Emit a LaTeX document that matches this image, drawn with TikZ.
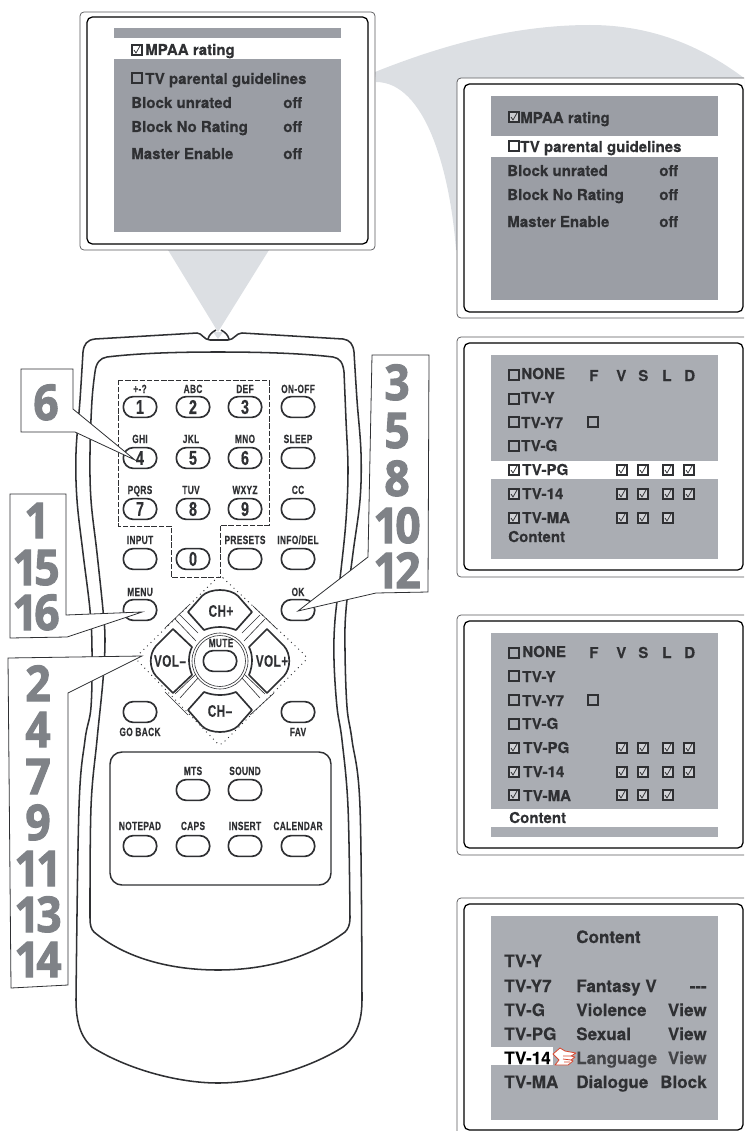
\documentclass[tikz,border=0pt]{standalone}
\usepackage{fontspec}
\setmainfont[BoldFeatures={FakeBold=0.25}]{TeX Gyre Heros}
\newfontfamily\remfont[FakeStretch=0.70,LetterSpace=3,FakeBold=0.35]{Liberation Sans Bold}
\newfontfamily\numfont[FakeStretch=0.72,FakeBold=0.5]{Liberation Sans Bold}
\newfontfamily\bignum[FakeBold=2,LetterSpace=-7,FakeStretch=0.9]{Open Sans Bold}
\newcount\nn
\definecolor{ink}{HTML}{2F3033}
\definecolor{gA}{HTML}{9B9EA5}
\definecolor{gB}{HTML}{AAADB3}
\definecolor{beam}{HTML}{DCDFE3}
\definecolor{numgrey}{HTML}{7F8287}
\definecolor{handred}{HTML}{D8472F}
\tikzset{
  autoname/.code={\global\advance\nn by 1\relax\pgfkeysalso{name=n\the\nn}},
  every node/.append style={autoname},
  ptxt/.style={anchor=base west,inner sep=0pt,text=ink,font=\fontsize{11.3}{12}\bfseries\selectfont},
  ctxt/.style={anchor=base west,inner sep=0pt,text=ink,font=\fontsize{12.8}{13}\bfseries\selectfont},
  rlab/.style={anchor=base,inner sep=0pt,text=ink,font=\fontsize{8.9}{9}\remfont\selectfont},
  pill/.style={draw=ink,line width=1.25pt,minimum width=25pt,minimum height=15.6pt,inner sep=0pt,rounded corners=7.5pt,text=ink,font=\fontsize{15}{15}\numfont\selectfont},
  padt/.style={inner sep=0pt,text=ink,font=\fontsize{12.5}{13}\remfont\selectfont},
  pad/.style={draw=ink,line width=1.25pt,fill=white,line join=round},
  thinl/.style={draw=ink,line width=.45pt},
  shellline/.style={draw=ink,line width=1.15pt,line join=round},
  callout/.style={draw=ink,line width=.6pt,fill=white,line join=miter},
  bign/.style={anchor=base,inner sep=0pt,text=numgrey,font=\fontsize{37}{38}\bignum\selectfont},
  outerb/.style={draw=ink!80,line width=.55pt,fill=white,rounded corners=3pt},
  innerb/.style={draw=black,line width=.95pt,rounded corners=4pt},
}
\newcommand\pt[3]{\node[ptxt] at (#1,#2) {#3};}
\newcommand\ct[3]{\node[ctxt] at (#1,#2) {#3};}
\newcommand\cbox[2]{\draw[ink,line width=1.1pt] (#1-5,#2-5) rectangle (#1+5,#2+5);}
\newcommand\ckbox[2]{\draw[ink,line width=1.1pt,fill=white,fill opacity=.45] (#1-5,#2-5) rectangle (#1+5,#2+5);
  \draw[ink,line width=.55pt] (#1-3,#2) -- (#1-1,#2+3) -- (#1+3,#2-4);}
\newcommand\btn[3]{\node[pill] at (#1,#2) {#3};}
\newcommand\lab[3]{\node[rlab] at (#1,#2) {#3};}
\begin{document}
\begin{tikzpicture}[x=0.75pt,y=-0.75pt]
\useasboundingbox (0,0) rectangle (744,1131);
\begin{scope}
\clip (0,0) rectangle (744,1131);
% beams
\fill[beam] (168,250) -- (269,250) -- (218,332) -- cycle;
\fill[beam] (375,72) .. controls (450,42) and (520,25) .. (590,25) .. controls (650,25) and (700,45) .. (744,78)
  -- (744,250) -- (456,250) .. controls (450,170) and (425,82) .. (376,82) -- cycle;

% panel 1
\draw[outerb] (80,12) rectangle (375,250);
\draw[innerb] (87,17) rectangle (368,244);
\fill[gA] (114,28) rectangle (341,38);
\fill[gA] (114,59) rectangle (341,232);
\ckbox{137}{50}
\pt{145}{55}{MPAA rating}
\cbox{137}{78}
\pt{145}{84}{TV parental guidelines}
\pt{131}{108}{Block unrated} \pt{283}{108}{off}
\pt{131}{132}{Block No Rating} \pt{283}{132}{off}
\pt{131}{159}{Master Enable} \pt{283}{159}{off}

% panel 2
\draw[outerb] (457,78) rectangle (752,318);
\draw[innerb] (464,84) rectangle (743,312);
\fill[gA] (491,96) rectangle (718,136);
\fill[gA] (491,157) rectangle (718,300);
\ckbox{514}{117}
\pt{520}{123}{MPAA rating}
\cbox{514}{146}
\pt{520}{152}{TV parental guidelines}
\pt{507}{176}{Block unrated} \pt{659}{176}{off}
\pt{507}{200}{Block No Rating} \pt{659}{200}{off}
\pt{507}{227}{Master Enable} \pt{659}{227}{off}

% panel 3
\draw[outerb] (457,337) rectangle (752,577);
\draw[innerb] (464,343) rectangle (743,570);
\fill[gB] (491,355) rectangle (718,461);
\fill[gB] (491,479) rectangle (718,559);
\cbox{514}{375} \pt{521}{379}{NONE}
\cbox{514}{399} \pt{521}{403}{TV-Y}
\cbox{514}{422} \pt{521}{428}{TV-Y7}
\cbox{514}{446} \pt{521}{451}{TV-G}
\ckbox{514}{470} \pt{522}{475}{TV-PG}
\ckbox{514}{494} \pt{522}{499}{TV-14}
\ckbox{514}{518} \pt{522}{523}{TV-MA}
\pt{508}{542}{Content}
\pt{589}{381}{F} \pt{616}{381}{V} \pt{638}{381}{S} \pt{662}{381}{L} \pt{684}{381}{D}
\cbox{593}{422}
\foreach \x in {622,643,668,689} {\ckbox{\x}{470} \ckbox{\x}{494}}
\foreach \x in {622,643,668} {\ckbox{\x}{518}}

% panel 4
\draw[outerb] (457,615) rectangle (752,855);
\draw[innerb] (464,621) rectangle (743,848);
\fill[gB] (491,633) rectangle (718,809);
\fill[gB] (491,827) rectangle (718,837);
\cbox{514}{653} \pt{522}{657}{NONE}
\cbox{514}{676} \pt{522}{682}{TV-Y}
\cbox{514}{700} \pt{522}{706}{TV-Y7}
\cbox{514}{724} \pt{522}{729}{TV-G}
\ckbox{514}{748} \pt{523}{753}{TV-PG}
\ckbox{514}{772} \pt{523}{777}{TV-14}
\ckbox{514}{795} \pt{523}{801}{TV-MA}
\pt{509}{823}{Content}
\pt{589}{658}{F} \pt{616}{658}{V} \pt{638}{658}{S} \pt{662}{658}{L} \pt{684}{658}{D}
\cbox{593}{700}
\foreach \x in {622,643,668,689} {\ckbox{\x}{748} \ckbox{\x}{772}}
\foreach \x in {622,643,668} {\ckbox{\x}{795}}

% panel 5
\draw[outerb] (457,898) rectangle (752,1140);
\draw[innerb] (464,904) rectangle (743,1130);
\fill[gB] (491,916) rectangle (718,1120);
\fill[white] (491,1047) rectangle (553,1065);
\ct{576}{943}{Content}
\ct{504}{967}{TV-Y}
\ct{504}{992}{TV-Y7} \ct{576}{992}{Fantasy V}
\node[ctxt,anchor=base east] at (707,992) {-{}-{}-};
\ct{504}{1016}{TV-G} \ct{576}{1016}{Violence}
\node[ctxt,anchor=base east] at (707,1016) {View};
\ct{504}{1040}{TV-PG} \ct{576}{1040}{Sexual}
\node[ctxt,anchor=base east] at (707,1040) {View};
\node[ctxt,anchor=base west,text=black] at (504,1064) {TV-14};
\node[ctxt,text=black!60!gB] at (576,1064) {Language};
\node[ctxt,anchor=base east,text=black!60!gB] at (707,1064) {View};
\ct{504}{1088}{TV-MA} \ct{576}{1088}{Dialogue}
\node[ctxt,anchor=base east] at (707,1088) {Block};
% pointing hand
\filldraw[fill=white,draw=handred,line width=.6pt,line join=round]
  (553,1054) -- (560,1048) -- (565,1051) -- (576,1053) -- (571,1056) -- (575,1057) -- (571,1060) -- (573,1061) -- (568,1065) -- (555,1065) -- (559,1060) -- cycle;
\draw[handred,line width=.6pt] (563,1056) -- (571,1056) (563,1059) -- (571,1060) (564,1062) -- (570,1062);

% remote shell
\draw[shellline,fill=white] (242,333) -- (343,339) .. controls (350,340) and (353,344) .. (354,352)
  -- plot[smooth,tension=.6] coordinates {(354,352) (357,400) (361,453) (360,500) (353,553) (346,610) (345,650) (347,707) (352,740) (360,807) (362,1000)}
  .. controls (362,1028) and (352,1040) .. (343,1047)
  .. controls (310,1068) and (260,1083) .. (218,1083)
  .. controls (176,1083) and (125,1068) .. (92,1047)
  .. controls (84,1040) and (76,1028) .. (76,1000)
  -- plot[smooth,tension=.6] coordinates {(76,1000) (79,807) (85,740) (91,707) (92,650) (90,610) (83,553) (77,500) (76,453) (80,400) (83,352)}
  .. controls (84,344) and (87,340) .. (95,339) -- (197,333)
  .. controls (202,333) and (204,340) .. (210,340) -- (228,340)
  .. controls (234,340) and (236,333) .. (242,333) -- cycle;
\fill[beam] (213,332) -- (223,332) -- (218,339) -- cycle;
\draw[ink,line width=1.15pt] (208,339) .. controls (209,335) and (212,332) .. (216,330)
  (229,339) .. controls (228,335) and (225,332) .. (221,330);
\draw[shellline] (107,357) .. controls (140,353) and (180,352) .. (218,352)
  .. controls (256,352) and (300,353) .. (333,357) .. controls (340,358) and (343,363) .. (344,372)
  -- plot[smooth,tension=.6] coordinates {(344,372) (346,420) (348,470) (346,520) (341,570) (335,620) (334,660) (337,707) (342,740) (348,807) (350,918)}
  .. controls (350,925) and (348,929) .. (345,932)
  .. controls (310,958) and (265,970) .. (218,970)
  .. controls (170,970) and (125,958) .. (94,932)
  .. controls (91,929) and (90,925) .. (90,918)
  -- plot[smooth,tension=.6] coordinates {(90,918) (91,807) (97,740) (103,680) (105,640) (103,610) (97,553) (91,500) (90,453) (92,400) (95,372)}
  .. controls (96,363) and (100,358) .. (107,357) -- cycle;

% keypad dashed outline
\draw[ink,line width=.6pt,dash pattern=on 4pt off 1.4pt] (118,380) -- (269,380) -- (269,525) -- (220,525) -- (220,577) -- (171,577) -- (171,526) -- (118,526) -- cycle;
% diamond dotted
\draw[ink,line width=.7pt,dash pattern=on .7pt off 3pt,rounded corners=3pt] (220,575) -- (308,658) -- (220,746) -- (135,658) -- cycle;

% keys
\btn{140}{407}{1} \btn{193}{407}{2} \btn{245}{407}{3} \btn{298}{407}{}
\lab{140}{393}{+-?} \lab{193}{393}{ABC} \lab{245}{393}{DEF} \lab{298}{393}{ON-OFF}
\btn{140}{458}{4} \btn{193}{458}{5} \btn{245}{458}{6} \btn{298}{458}{}
\lab{140}{443}{GHI} \lab{191}{443}{JKL} \lab{245}{443}{MNO} \lab{298}{443}{SLEEP}
\btn{140}{509}{7} \btn{193}{509}{8} \btn{245}{509}{9} \btn{298}{509}{}
\lab{140}{494}{PQRS} \lab{191}{494}{TUV} \lab{245}{494}{WXYZ} \lab{298}{494}{CC}
\btn{140}{559}{} \btn{193}{559}{0} \btn{245}{559}{} \btn{298}{559}{}
\lab{140}{544}{INPUT} \lab{245}{544}{PRESETS} \lab{298}{544}{INFO/DEL}
\btn{140}{610}{} \btn{298}{610}{}
\lab{140}{596}{MENU} \lab{298}{596}{OK}
\btn{140}{712}{} \btn{298}{712}{}
\lab{140}{736}{GO BACK} \lab{298}{736}{FAV}

% direction pad
\draw[thinl] (220,661) circle (28) (220,661) circle (25.5);
\draw[thinl] (189,605) -- (165,628) (253,606) -- (277,629) (165,692) -- (188,715) (274,693) -- (250,715);
\draw[thinl] (180,615) -- (198,633) (260,615) -- (242,633) (180,698) -- (198,678) (260,698) -- (242,678);
\draw[thinl] (175,619) -- (196,641) (265,619) -- (244,641) (175,694) -- (196,674) (265,694) -- (244,674);
\draw[pad] (188,612) -- (202,596) .. controls (210,588) and (230,588) .. (238,596) -- (252,612)
  -- (236,630) .. controls (226,626) and (214,626) .. (204,630) -- cycle;
\draw[pad] (188,710) -- (202,726) .. controls (210,734) and (230,734) .. (238,726) -- (252,710)
  -- (236,692) .. controls (226,696) and (214,696) .. (204,692) -- cycle;
\draw[pad] (173,629) -- (156,646) .. controls (149,654) and (149,668) .. (156,676) -- (173,693)
  -- (192,675) .. controls (188,665) and (188,655) .. (192,647) -- cycle;
\draw[pad] (267,629) -- (284,646) .. controls (291,654) and (291,668) .. (284,676) -- (267,693)
  -- (249,675) .. controls (253,665) and (253,655) .. (249,647) -- cycle;
\node[padt] at (221,611) {CH+};
\node[padt] at (220,711) {CH–};
\node[padt] at (170,661) {VOL–};
\node[padt] at (272,661) {VOL+};
\btn{220}{661}{}
\lab{221}{647}{MUTE}

% lower group
\draw[ink,line width=1.1pt,rounded corners=9pt] (110,752) rectangle (331,885);
\btn{193}{790}{} \btn{245}{790}{}
\lab{193}{775}{MTS} \lab{245}{775}{SOUND}
\btn{140}{846}{} \btn{193}{846}{} \btn{245}{846}{} \btn{298}{846}{}
\lab{140}{830}{NOTEPAD} \lab{193}{830}{CAPS} \lab{245}{830}{INSERT} \lab{298}{830}{CALENDAR}

% callouts
\draw[callout] (21,369) -- (73,369) -- (73,409) -- (135,460) -- (75,432) -- (21,432) -- cycle;
\node[bign] at (46,420) {6};
\draw[callout] (10,494) -- (66,494) -- (66,615) -- (142,612) -- (67,637) -- (10,638) -- cycle;
\node[bign] at (37,538) {1};
\node[bign] at (36,585) {15};
\node[bign] at (36,630) {16};
\draw[callout] (372,355) -- (429,355) -- (428,592) -- (376,593) -- (298,611) -- (368,557) -- cycle;
\node[bign] at (397,400) {3};
\node[bign] at (397,448) {5};
\node[bign] at (397,496) {8};
\node[bign] at (397,543) {10};
\node[bign] at (397,588) {12};
\draw[callout] (8,658) -- (142,656) -- (68,693) -- (68,985) -- (11,988) -- cycle;
\node[bign] at (38,701) {2};
\node[bign] at (38,747) {4};
\node[bign] at (38,794) {7};
\node[bign] at (38,840) {9};
\node[bign] at (38,886) {11};
\node[bign] at (38,932) {13};
\node[bign] at (38,977) {14};
\end{scope}
\end{tikzpicture}
\end{document}
